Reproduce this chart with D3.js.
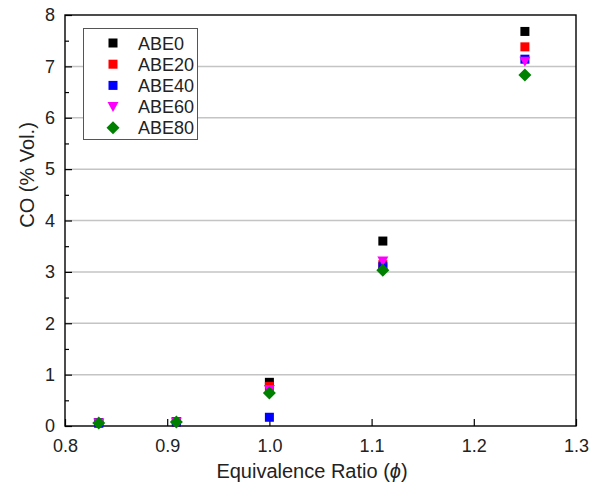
<!DOCTYPE html>
<html><head><meta charset="utf-8">
<script src="https://cdn.jsdelivr.net/npm/d3@7"></script>
<style>body{margin:0;background:#fff}svg{display:block}text{font-family:"Liberation Sans",Arial,sans-serif;fill:#222}</style>
</head><body><svg id="c" width="590" height="485"></svg>
<script>
const phi = [0.833, 0.909, 1.0, 1.111, 1.25];
const seriesNames = ["ABE0", "ABE20", "ABE40", "ABE60", "ABE80"];
const ABE0  = [0.06, 0.08, 0.85, 3.60, 7.68];
const ABE20 = [0.06, 0.08, 0.77, 3.14, 7.38];
const ABE40 = [0.06, 0.08, 0.17, 3.10, 7.14];
const ABE60 = [0.06, 0.08, 0.71, 3.21, 7.10];
const ABE80 = [0.06, 0.08, 0.64, 3.03, 6.83];
const xTicks = [0.8, 0.9, 1.0, 1.1, 1.2, 1.3];
const yTicks = [0, 1, 2, 3, 4, 5, 6, 7, 8];
const colors = ["#000000", "#ff0000", "#0000ff", "#ff00ff", "#008000"];
const shapes = ["square", "square", "square", "triangleDown", "diamond"];

const svg = d3.select("#c");
const L = 65, R = 576, T = 15, B = 426;
const x = d3.scaleLinear().domain([0.8, 1.3]).range([L, R]);
const y = d3.scaleLinear().domain([0, 8]).range([B, T]);

// gridlines
svg.append("g").selectAll("line").data(yTicks.slice(1, -1)).join("line")
  .attr("x1", L).attr("x2", R).attr("y1", d => y(d)).attr("y2", d => y(d))
  .attr("stroke", "#c4c4c4").attr("stroke-width", 1.5);

// axes with inward ticks
const xAxis = svg.append("g").attr("transform", `translate(0,${B})`)
  .call(d3.axisBottom(x).tickValues(xTicks).tickFormat(d3.format(".1f")).tickSizeInner(-7).tickSizeOuter(0).tickPadding(13));
const yAxis = svg.append("g").attr("transform", `translate(${L},0)`)
  .call(d3.axisLeft(y).tickValues(yTicks).tickFormat(d3.format("d")).tickSizeInner(-7).tickSizeOuter(0).tickPadding(10));
const yMinor = svg.append("g").attr("transform", `translate(${L},0)`)
  .call(d3.axisLeft(y).tickValues(d3.range(0.5, 8, 1)).tickFormat("").tickSizeInner(-4).tickSizeOuter(0));
yMinor.select(".domain").remove();
[xAxis, yAxis].forEach(g => {
  g.selectAll("text").style("font-size", "18px").attr("fill", "#222");
  g.selectAll("line").attr("stroke", "#000").attr("stroke-width", 1.2);
  g.select(".domain").remove();
});
yMinor.selectAll("line").attr("stroke", "#000").attr("stroke-width", 1.2);

// frame
svg.append("rect").attr("x", L).attr("y", T).attr("width", R - L).attr("height", B - T)
  .attr("fill", "none").attr("stroke", "#000").attr("stroke-width", 1.4);

function marker(sel, shape, color) {
  if (shape === "square") {
    sel.append("rect").attr("x", -4.5).attr("y", -4.5).attr("width", 9).attr("height", 9).attr("fill", color);
  } else if (shape === "triangleDown") {
    sel.append("path").attr("d", "M-5.5,-4.5L5.5,-4.5L0,5.5Z").attr("fill", color);
  } else {
    sel.append("path").attr("d", "M0,-6.5L6.5,0L0,6.5L-6.5,0Z").attr("fill", color);
  }
}

const allSeries = [ABE0, ABE20, ABE40, ABE60, ABE80];
allSeries.forEach((vals, i) => {
  const g = svg.append("g");
  vals.forEach((v, j) => {
    const m = g.append("g").attr("transform", `translate(${x(phi[j])},${y(v)})`);
    marker(m, shapes[i], colors[i]);
  });
});

// legend
const lg = svg.append("g");
lg.append("rect").attr("x", 83.5).attr("y", 28.5).attr("width", 114).attr("height", 111)
  .attr("fill", "#fff").attr("stroke", "#555").attr("stroke-width", 1);
seriesNames.forEach((n, i) => {
  const cy = 43 + i * 21.2;
  const m = lg.append("g").attr("transform", `translate(113,${cy})`);
  marker(m, shapes[i], colors[i]);
  lg.append("text").attr("x", 138).attr("y", cy + 6.5).style("font-size", "18px").text(n);
});

// axis titles
svg.append("text").attr("x", 312).attr("y", 478).attr("text-anchor", "middle")
  .style("font-size", "20px").html('Equivalence Ratio (<tspan font-style="italic">ϕ</tspan>)');
svg.append("text").attr("transform", "translate(34,175) rotate(-90)").attr("text-anchor", "middle")
  .style("font-size", "20px").text("CO (% Vol.)");
</script></body></html>
